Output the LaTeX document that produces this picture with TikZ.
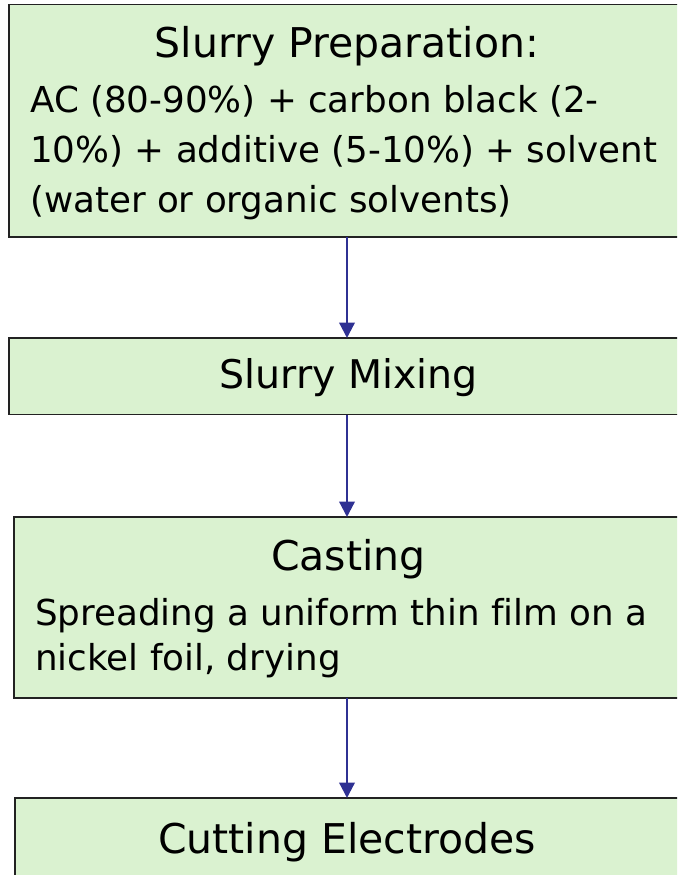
\documentclass[tikz,border=0pt]{standalone}
\usepackage{fontspec}
\setmainfont[Ligatures=NoCommon]{DejaVu Sans}
\usetikzlibrary{arrows.meta}
\definecolor{boxfill}{HTML}{DAF2D0}
\definecolor{boxline}{HTML}{222222}
\definecolor{arrcol}{HTML}{2F3193}
\tikzset{
  stepbox/.style={draw=boxline, line width=1.4pt, fill=boxfill, rectangle, inner sep=0pt, outer sep=0pt},
  ttl/.style={inner sep=0pt, anchor=base, font=\fontsize{41}{50}\selectfont},
  bodytxt/.style={inner sep=0pt, anchor=base west, font=\fontsize{35.7}{50}\selectfont},
  flow/.style={draw=arrcol, line width=2.3pt, -{Triangle[length=15.5pt,width=15.5pt]}}
}
\begin{document}
\begin{tikzpicture}[x=1pt,y=-1pt]
\useasboundingbox (0,0) rectangle (677,875);
\clip (0,0) rectangle (677,875);
% boxes
\node[stepbox, minimum width=676pt, minimum height=232.5pt] (b1) at (347,120.75) {};
\node[stepbox, minimum width=678pt, minimum height=76.5pt] (b2) at (348,376.25) {};
\node[stepbox, minimum width=668pt, minimum height=181pt] (b3) at (348,607.5) {};
\node[stepbox, minimum width=666pt, minimum height=160pt] (b4) at (348,878) {};
% texts
\node[ttl] (t1) at (347,57) {Slurry Preparation:};
\node[bodytxt] (l1a) at (30,112.5) {AC (80-90\%) + carbon black (2-};
\node[bodytxt] (l1b) at (30,162.5) {10\%) + additive (5-10\%) + solvent};
\node[bodytxt] (l1c) at (30,212) {(water or organic solvents)};
\node[ttl, font=\fontsize{39.5}{48}\selectfont] (t2) at (348.5,388.3) {Slurry Mixing};
\node[ttl] (t3) at (348.5,570) {Casting};
\node[bodytxt] (l3a) at (35,625) {Spreading a uniform thin film on a};
\node[bodytxt] (l3b) at (35,670.7) {nickel foil, drying};
\node[ttl] (t4) at (347,853) {Cutting Electrodes};
% connectors
\draw[flow] (b1.south -| t1) -- (b2.north -| t1);
\draw[flow] (b2.south -| t1) -- (b3.north -| t1);
\draw[flow] (b3.south -| t1) -- (b4.north -| t1);
\end{tikzpicture}
\end{document}
